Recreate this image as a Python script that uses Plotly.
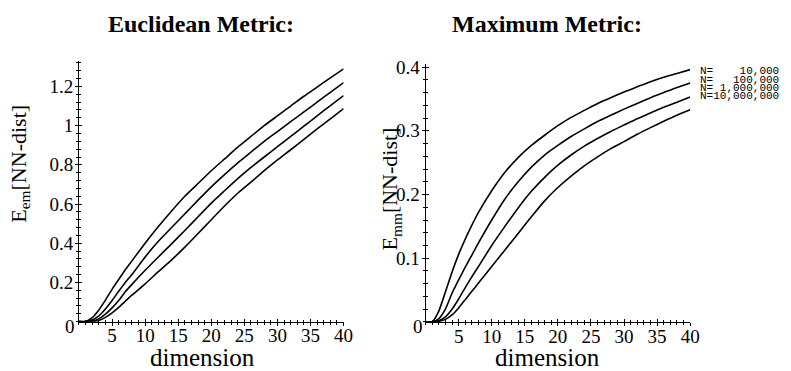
import plotly.graph_objects as go

# ---------------- data ----------------
dims = [0, 1, 2, 3, 4, 5, 6, 7, 8, 10, 12, 14, 16, 18, 20, 22, 24, 26, 28, 30, 32, 34, 36, 38, 40]

euc_N1e4 = [0, 0.0, 0.02, 0.06, 0.11, 0.165, 0.215, 0.265, 0.31, 0.40, 0.485, 0.565, 0.64, 0.705,
            0.77, 0.83, 0.89, 0.945, 1.0, 1.05, 1.10, 1.15, 1.197, 1.244, 1.29]
euc_N1e5 = [0, 0.0, 0.008, 0.03, 0.065, 0.108, 0.155, 0.2, 0.24, 0.33, 0.41, 0.48, 0.55, 0.62,
            0.688, 0.75, 0.81, 0.865, 0.92, 0.97, 1.02, 1.07, 1.12, 1.17, 1.22]
euc_N1e6 = [0, 0.0, 0.003, 0.014, 0.038, 0.07, 0.108, 0.152, 0.19, 0.262, 0.33, 0.397, 0.465, 0.535,
            0.605, 0.668, 0.73, 0.787, 0.84, 0.893, 0.945, 0.997, 1.05, 1.102, 1.153]
euc_N1e7 = [0, 0.0, 0.001, 0.006, 0.022, 0.045, 0.073, 0.104, 0.135, 0.193, 0.255, 0.315, 0.38, 0.45,
            0.52, 0.59, 0.655, 0.712, 0.77, 0.825, 0.877, 0.93, 0.983, 1.035, 1.087]

max_N1e4 = [0, 0.0, 0.017, 0.047, 0.078, 0.106, 0.13, 0.152, 0.172, 0.206, 0.235, 0.258, 0.277, 0.293,
            0.308, 0.321, 0.332, 0.343, 0.352, 0.361, 0.369, 0.377, 0.384, 0.390, 0.396]
max_N1e5 = [0, 0.0, 0.005, 0.02, 0.045, 0.066, 0.086, 0.105, 0.124, 0.16, 0.193, 0.22, 0.243, 0.262,
            0.277, 0.291, 0.303, 0.3145, 0.3245, 0.334, 0.343, 0.352, 0.36, 0.368, 0.375]
max_N1e6 = [0, 0.0, 0.002, 0.008, 0.02, 0.036, 0.054, 0.071, 0.087, 0.12, 0.15, 0.179, 0.205, 0.227,
            0.246, 0.262, 0.276, 0.288, 0.299, 0.309, 0.319, 0.328, 0.337, 0.345, 0.353]
max_N1e7 = [0, 0.0, 0.001, 0.004, 0.011, 0.022, 0.035, 0.048, 0.061, 0.087, 0.113, 0.139, 0.165, 0.19,
            0.211, 0.229, 0.245, 0.259, 0.272, 0.283, 0.2945, 0.305, 0.315, 0.3245, 0.333]

n_labels = ["N=    10,000", "N=   100,000", "N= 1,000,000", "N=10,000,000"]

x_ticks = [5, 10, 15, 20, 25, 30, 35, 40]
euc_ticks = [0.2, 0.4, 0.6, 0.8, 1.0, 1.2]
euc_ticktext = ["0.2", "0.4", "0.6", "0.8", "1", "1.2"]
max_ticks = [0.1, 0.2, 0.3, 0.4]
max_ticktext = ["0.1", "0.2", "0.3", "0.4"]

# ---------------- layout helpers ----------------
W, H = 791, 371
def px(x):
    return x / W
def py(y):
    return 1 - y / H

SERIF = "Liberation Serif"
line_style = dict(color="black", width=1.6, shape="spline", smoothing=0.5)

fig = go.Figure()

for s in [euc_N1e4, euc_N1e5, euc_N1e6, euc_N1e7]:
    fig.add_trace(go.Scatter(x=dims, y=s, mode="lines", line=line_style,
                             xaxis="x", yaxis="y", showlegend=False, hoverinfo="skip"))
for s in [max_N1e4, max_N1e5, max_N1e6, max_N1e7]:
    fig.add_trace(go.Scatter(x=dims, y=s, mode="lines", line=line_style,
                             xaxis="x2", yaxis="y2", showlegend=False, hoverinfo="skip"))

# invisible helpers so that the overlay axes (inner halves of the crossing ticks) are drawn
fig.add_trace(go.Scatter(x=dims, y=euc_N1e4, mode="lines", opacity=0, xaxis="x3", yaxis="y3",
                         showlegend=False, hoverinfo="skip"))
fig.add_trace(go.Scatter(x=dims, y=max_N1e4, mode="lines", opacity=0, xaxis="x4", yaxis="y4",
                         showlegend=False, hoverinfo="skip"))

tickfont = dict(family=SERIF, size=19, color="black")

def xax(domain, anchor, side_ticks, labels=True, overlay=None):
    d = dict(range=[0, 40], tickmode="array", tickvals=x_ticks,
             ticks=side_ticks, ticklen=3, tickwidth=1, tickcolor="black",
             minor=dict(ticks=side_ticks, ticklen=2, dtick=1, tick0=0, tickcolor="black", tickwidth=1),
             showgrid=False, zeroline=False, anchor=anchor, tickfont=tickfont,
             showticklabels=labels, fixedrange=True)
    if overlay:
        d["overlaying"] = overlay
        d["showline"] = False
    else:
        d["domain"] = domain
        d["showline"] = True
        d["linecolor"] = "black"
        d["linewidth"] = 1
        d["ticklabelstandoff"] = -6
    return d

def yax(domain, anchor, rng, tv, tt, mdt, side_ticks, labels=True, overlay=None):
    d = dict(range=rng, tickmode="array", tickvals=tv, ticktext=tt,
             ticks=side_ticks, ticklen=3, tickwidth=1, tickcolor="black",
             minor=dict(ticks=side_ticks, ticklen=2, dtick=mdt, tick0=0, tickcolor="black", tickwidth=1),
             showgrid=False, zeroline=False, anchor=anchor, tickfont=tickfont,
             showticklabels=labels, fixedrange=True)
    if overlay:
        d["overlaying"] = overlay
        d["showline"] = False
    else:
        d["domain"] = domain
        d["showline"] = True
        d["linecolor"] = "black"
        d["linewidth"] = 1
        d["ticklabelstandoff"] = -2
    return d

left_x = [px(80), px(348)]
right_x = [px(431), px(699)]
left_y = [py(320.7), py(55)]
right_y = [py(321), py(58)]

fig.update_layout(
    width=W, height=H,
    margin=dict(l=0, r=0, t=0, b=0),
    paper_bgcolor="white", plot_bgcolor="white",
    showlegend=False,
    xaxis=xax(left_x, "y", "outside"),
    yaxis=yax(left_y, "x", [0, 1.33], euc_ticks, euc_ticktext, 0.04, "outside"),
    xaxis2=xax(right_x, "y2", "outside"),
    yaxis2=yax(right_y, "x2", [0, 0.405], max_ticks, max_ticktext, 0.02, "outside"),
    xaxis3=xax(None, "y3", "inside", labels=False, overlay="x"),
    yaxis3=yax(None, "x3", [0, 1.33], euc_ticks, euc_ticktext, 0.04, "inside", labels=False, overlay="y"),
    xaxis4=xax(None, "y4", "inside", labels=False, overlay="x2"),
    yaxis4=yax(None, "x4", [0, 0.405], max_ticks, max_ticktext, 0.02, "inside", labels=False, overlay="y2"),
)

annotations = []
def ann(x, y, text, size, family=SERIF, angle=0, xanchor="center", yanchor="middle"):
    annotations.append(dict(x=x, y=y, xref="paper", yref="paper", text=text, showarrow=False,
                            textangle=angle, xanchor=xanchor, yanchor=yanchor, borderpad=0,
                            font=dict(family=family, size=size, color="black")))

ann(px(203.5), py(17), "<b>Euclidean Metric:</b>", 24)
ann(px(554), py(17), "<b>Maximum Metric:</b>", 24)
ann(px(205), py(357.5), "dimension", 25)
ann(px(555), py(357.5), "dimension", 25)
ann(px(20), py(160), "E<sub>em</sub>[NN-dist]", 22, angle=-90)
ann(px(396), py(185), "E<sub>mm</sub>[NN-dist]", 22, angle=-90)
ann(px(71), py(326), "0", 19)
ann(px(423), py(326), "0", 19)

label_rows = [65, 74, 82.5, 91]
for lab, yy in zip(n_labels, label_rows):
    ann(px(790), py(yy), lab.replace(" ", "&nbsp;"), 11, family="Liberation Mono", xanchor="right")

fig.update_layout(annotations=annotations)

fig.write_html("out.html")
